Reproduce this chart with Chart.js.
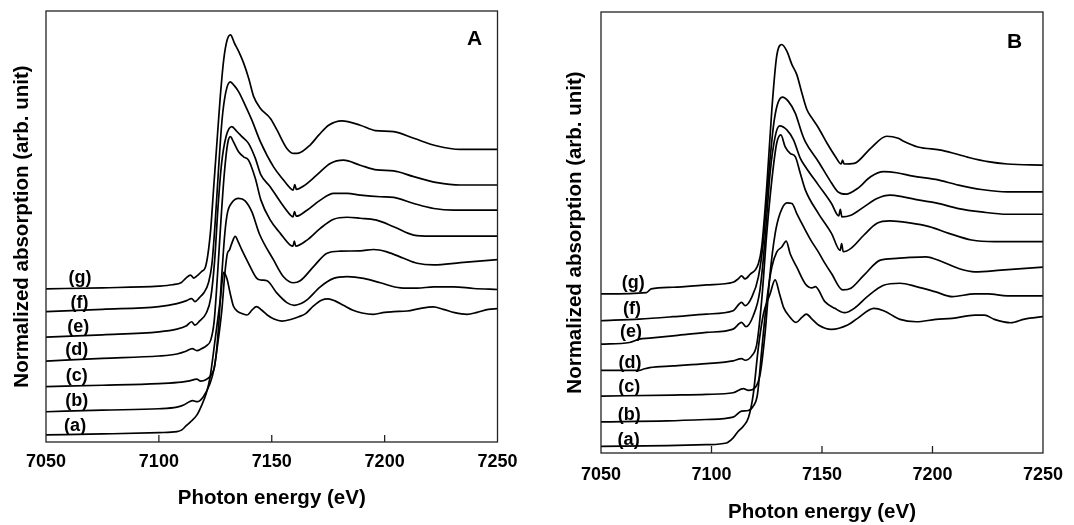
<!DOCTYPE html>
<html>
<head>
<meta charset="utf-8">
<script src="https://cdn.jsdelivr.net/npm/chart.js@4.4.0/dist/chart.umd.min.js"></script>
<style>
    body { margin: 0; background: #fff; }
    .panel { position: absolute; top: 0; width: 537px; height: 525px; }
</style>
</head>
<body>
<div class="panel" style="left:0"><canvas id="chartA" width="537" height="525"></canvas></div>
<div class="panel" style="left:537px"><canvas id="chartB" width="537" height="525"></canvas></div>
<script>
// Данные: энергия (eV) и нормированное поглощение (со сдвигом)
const X_TICKS = [7050, 7100, 7150, 7200, 7250];
const INNER_TICKS = [7100, 7150, 7200];
const CURVE_NAMES = ['(a)', '(b)', '(c)', '(d)', '(e)', '(f)', '(g)'];

// Панель A
const A_a = [[7050,0.21],[7075,0.24],[7100,0.28],[7108,0.31],[7110.2,0.36],[7112,0.48],[7114,0.60],[7116.8,0.80],[7119,1.10],[7121,1.45],[7122.7,1.94],[7124.9,3.04],[7127.2,4.23],[7128.7,5.05],[7130.2,4.85],[7131.5,4.45],[7133,4.05],[7135,3.88],[7137,3.82],[7139,3.78],[7141.3,3.93],[7143.2,4.03],[7145.5,3.93],[7148,3.78],[7151,3.66],[7154.5,3.60],[7158,3.64],[7162,3.73],[7165,3.82],[7168.5,4.05],[7172,4.22],[7175,4.26],[7178,4.20],[7182,4.06],[7186,3.92],[7190,3.84],[7195,3.80],[7200,3.86],[7204,3.88],[7210,3.90],[7216,3.98],[7221.5,4.02],[7226,3.95],[7231,3.85],[7236.5,3.80],[7241,3.86],[7246,3.95],[7250,3.97]];
const A_b = [[7050,0.90],[7075,0.95],[7100,0.99],[7108,1.04],[7111,1.10],[7113.5,1.20],[7115,1.23],[7117,1.20],[7119.7,1.35],[7122.7,1.75],[7124.5,2.20],[7125.7,2.74],[7127.9,3.93],[7129.2,5.00],[7130.3,5.60],[7131.3,5.72],[7132.5,5.95],[7133.8,6.12],[7135.2,5.95],[7136.8,5.71],[7139.7,5.32],[7143.4,4.87],[7145.5,4.82],[7147.9,4.80],[7152.3,4.43],[7156.7,4.15],[7160,4.07],[7163,4.12],[7165.6,4.23],[7171.5,4.62],[7177.4,4.87],[7183.4,4.92],[7190.7,4.87],[7198.1,4.74],[7207,4.59],[7214.4,4.58],[7221.8,4.62],[7230.6,4.62],[7239.5,4.57],[7250,4.54]];
const A_c = [[7050,1.65],[7075,1.69],[7100,1.74],[7110,1.78],[7113.5,1.82],[7116.8,1.87],[7118.5,1.81],[7121,1.86],[7123,1.98],[7124.8,2.30],[7126.3,3.30],[7127.8,4.90],[7129.2,6.20],[7130.3,6.80],[7132.3,7.12],[7135.3,7.25],[7138.2,7.18],[7141.2,6.85],[7144.5,6.20],[7150.8,5.42],[7155.2,4.92],[7159.7,4.74],[7162.6,4.80],[7168.5,5.22],[7174.5,5.62],[7180.4,5.68],[7189.2,5.69],[7195.1,5.73],[7201,5.66],[7208.4,5.47],[7214.4,5.32],[7221.8,5.27],[7233.6,5.34],[7250,5.43]];
const A_d = [[7050,2.41],[7075,2.49],[7100,2.56],[7108,2.62],[7112,2.70],[7114.8,2.78],[7116.8,2.72],[7119,2.78],[7121,2.86],[7123,3.04],[7124.5,3.60],[7126,5.00],[7127.5,6.60],[7129,8.00],[7130.5,8.90],[7131.7,9.09],[7133,8.94],[7135.3,8.64],[7137.5,8.49],[7139.7,8.39],[7142.7,7.85],[7145.2,7.20],[7149.3,6.61],[7153.8,6.21],[7158.2,5.86],[7159.4,5.83],[7160,5.98],[7160.6,5.83],[7165.6,6.01],[7171.5,6.36],[7177.4,6.63],[7183.4,6.69],[7189.2,6.66],[7196,6.61],[7204,6.41],[7212.9,6.16],[7220.3,6.13],[7250,6.13]];
const A_e = [[7050,3.12],[7075,3.19],[7100,3.28],[7108,3.36],[7112,3.45],[7114.5,3.58],[7116,3.48],[7118,3.60],[7121,3.84],[7123,4.30],[7124.7,5.40],[7126.2,7.00],[7127.8,8.30],[7129.8,9.10],[7132.3,9.39],[7134.5,9.25],[7136.8,9.09],[7139.7,8.89],[7142.7,8.45],[7145.2,7.95],[7149.3,7.60],[7153.8,7.15],[7158.2,6.76],[7159.4,6.70],[7160.1,6.86],[7160.8,6.72],[7165.6,6.90],[7171.5,7.20],[7177.4,7.40],[7183.4,7.40],[7189.2,7.35],[7198.1,7.30],[7204,7.28],[7212.9,7.10],[7221.8,6.95],[7230.6,6.90],[7250,6.90]];
const A_f = [[7050,3.88],[7075,3.95],[7100,4.03],[7108,4.12],[7112,4.20],[7114.5,4.27],[7116,4.18],[7118,4.30],[7120,4.45],[7122,4.75],[7123.5,5.30],[7125,6.60],[7126.5,8.20],[7128,9.60],[7129.6,10.40],[7131.6,10.72],[7133.5,10.60],[7135.3,10.43],[7138.2,10.03],[7141.2,9.58],[7144.9,8.95],[7150.8,8.19],[7155.2,7.80],[7158.8,7.52],[7159.5,7.50],[7160.2,7.66],[7160.9,7.52],[7164.1,7.62],[7170,7.95],[7175.9,8.29],[7181.8,8.39],[7189.2,8.24],[7196.6,8.10],[7204,8.07],[7212.9,7.90],[7223.3,7.72],[7233.6,7.65],[7250,7.65]];
const A_g = [[7050,4.56],[7075,4.59],[7100,4.64],[7106,4.68],[7110,4.75],[7112,4.88],[7114,4.97],[7115.5,4.88],[7117,4.95],[7119,5.08],[7120.6,5.20],[7122.8,6.21],[7124.3,7.60],[7125.8,8.99],[7127.2,10.28],[7128.7,11.37],[7130.2,11.96],[7131.7,12.12],[7133.5,11.87],[7135.4,11.62],[7137.6,11.27],[7139.8,10.82],[7142,10.28],[7145,9.93],[7149.4,9.63],[7152.3,9.29],[7156.7,8.74],[7159.7,8.59],[7162,8.60],[7167,8.84],[7171,9.15],[7175.2,9.43],[7181.1,9.56],[7189.2,9.43],[7195.9,9.27],[7204,9.24],[7212.9,9.04],[7223.3,8.81],[7233.6,8.71],[7250,8.71]];

// Панель B
const B_a = [[7050,0.20],[7080,0.22],[7097.7,0.25],[7106.8,0.30],[7109.8,0.45],[7112.1,0.65],[7114.4,0.80],[7116.7,1.05],[7118.9,1.75],[7121.2,3.15],[7123.5,4.15],[7126.5,4.75],[7128.8,5.17],[7130.8,4.75],[7132.6,4.35],[7135.6,4.05],[7138.3,3.90],[7140.9,4.05],[7142.9,4.15],[7145.5,4.00],[7148.4,3.82],[7154.3,3.69],[7161.6,3.82],[7166.1,4.02],[7173.5,4.32],[7177.9,4.25],[7185.3,3.99],[7192.7,3.92],[7201.5,3.99],[7208.9,4.02],[7219.2,4.12],[7223.5,4.12],[7228,3.99],[7235.4,3.89],[7241.7,4.00],[7250,4.07]];
const B_b = [[7050,0.93],[7080,0.96],[7097.7,1.00],[7109.8,1.07],[7113.6,1.25],[7116.7,1.27],[7118.9,1.40],[7120.8,1.75],[7122.7,3.05],[7125,4.55],[7127.3,5.55],[7129.5,6.00],[7131.8,6.15],[7133.8,6.33],[7135.6,5.95],[7138.6,5.55],[7142.5,5.05],[7145.5,4.93],[7147,4.97],[7151.3,4.52],[7155.8,4.32],[7160.2,4.19],[7164.6,4.32],[7170.5,4.67],[7177.9,5.01],[7185.3,5.07],[7192.7,4.97],[7201.5,4.81],[7208.9,4.67],[7219.2,4.75],[7225.1,4.75],[7233.9,4.69],[7250,4.69]];
const B_c = [[7050,1.70],[7082.6,1.73],[7097.7,1.75],[7109.8,1.80],[7114.4,1.92],[7116.7,1.87],[7119.7,1.95],[7122,2.35],[7124.2,3.55],[7126.5,5.35],[7128.8,6.55],[7131,7.15],[7134.1,7.47],[7136.4,7.45],[7138.6,7.15],[7141.7,6.75],[7145,6.35],[7148.4,6.00],[7151,5.70],[7154.3,5.36],[7159.4,4.87],[7163.1,4.92],[7169,5.31],[7176.4,5.76],[7183.8,5.81],[7189.7,5.84],[7197,5.86],[7204.4,5.71],[7211.8,5.51],[7219.2,5.41],[7231,5.46],[7250,5.55]];
const B_d = [[7050,2.47],[7067.4,2.47],[7069,2.50],[7072,2.55],[7082.6,2.60],[7097.7,2.67],[7109.8,2.75],[7113.6,2.82],[7115.2,2.77],[7118.2,2.90],[7120.5,3.25],[7122.7,4.55],[7125,6.55],[7127.3,8.15],[7129.5,9.25],[7131.4,9.50],[7133.3,9.15],[7135.6,8.95],[7137.9,8.85],[7140.2,8.35],[7142.5,7.85],[7148.4,7.15],[7154.3,6.56],[7158.2,6.05],[7158.9,6.25],[7159.6,6.01],[7163.1,6.11],[7169,6.51],[7174.9,6.86],[7180.8,6.93],[7189.7,6.87],[7198.5,6.76],[7207.4,6.56],[7217.7,6.36],[7228,6.31],[7250,6.31]];
const B_e = [[7050,3.25],[7062.9,3.30],[7067.4,3.40],[7072,3.43],[7082.6,3.50],[7097.7,3.60],[7109.8,3.70],[7113.6,3.90],[7115.6,3.77],[7118.9,4.10],[7121.9,4.85],[7124.2,6.35],[7126.5,8.35],[7128.8,9.45],[7130.8,9.77],[7134.1,9.65],[7137.1,9.35],[7140.2,8.80],[7142.5,8.55],[7148.4,8.00],[7154.3,7.45],[7157.6,7.08],[7158.3,7.28],[7159,7.05],[7163.1,7.10],[7169,7.35],[7174.9,7.60],[7180.8,7.70],[7186.7,7.65],[7194.1,7.55],[7201.5,7.47],[7211.8,7.30],[7222.1,7.20],[7233.9,7.13],[7250,7.13]];
const B_f = [[7050,3.95],[7067.4,4.00],[7082.6,4.07],[7097.7,4.15],[7109.8,4.25],[7113.6,4.50],[7115.2,4.40],[7118.2,4.65],[7121.2,5.25],[7123.5,6.35],[7125.8,8.25],[7128,9.75],[7129.8,10.40],[7132.1,10.63],[7134.8,10.50],[7137.9,10.15],[7140.9,9.55],[7142.5,9.29],[7148.4,8.70],[7153.5,8.15],[7157.2,7.80],[7160.9,7.73],[7166.1,7.90],[7172,8.25],[7177.9,8.40],[7183.8,8.37],[7191.2,8.27],[7201.5,8.17],[7211.8,8.00],[7222.1,7.87],[7233.9,7.80],[7250,7.80]];
const B_g = [[7050,4.75],[7070.5,4.79],[7072.7,4.90],[7082.6,4.95],[7097.7,5.02],[7109.8,5.10],[7112.1,5.20],[7113.6,5.29],[7115.2,5.20],[7117.4,5.33],[7121.2,5.65],[7122.7,6.15],[7125,7.95],[7127.3,10.25],[7129.5,11.85],[7131.8,12.20],[7134.1,12.00],[7136.4,11.60],[7138.6,11.30],[7140.9,10.75],[7143.2,10.25],[7145.5,10.00],[7148.5,9.70],[7152.3,9.25],[7156.1,8.85],[7158.7,8.63],[7159.3,8.75],[7160,8.63],[7164.6,8.65],[7172,9.10],[7179.3,9.46],[7184.5,9.40],[7186.7,9.32],[7193.4,9.14],[7204.4,9.04],[7216.2,8.83],[7225.1,8.70],[7233.9,8.63],[7250,8.60]];

// Подписи кривых (в координатах данных)
const A_LABEL_X = [7062.9, 7063.6, 7063.6, 7063.6, 7064.3, 7064.8, 7065.1];
const A_LABEL_Y = [0.48, 1.23, 1.96, 2.74, 3.41, 4.13, 4.87];
const B_LABEL_X = [7062.5, 7062.8, 7062.8, 7063.1, 7063.6, 7064.0, 7064.6];
const B_LABEL_Y = [0.39, 1.13, 1.98, 2.70, 3.60, 4.29, 5.07];

const FONT = '"Liberation Sans", Arial, Helvetica, sans-serif';
Chart.defaults.color = '#000';
Chart.defaults.font.family = FONT;

// Рамка, внутренние засечки и подписи
const panelDecor = {
    id: 'panelDecor',
    afterDatasetsDraw(chart, args, opts) {
        const { ctx, chartArea: a, scales: { x, y } } = chart;
        ctx.save();
        ctx.strokeStyle = '#222';
        ctx.lineWidth = 1.3;
        ctx.strokeRect(a.left, a.top, a.right - a.left, a.bottom - a.top);
        INNER_TICKS.forEach(v => {
            const px = x.getPixelForValue(v);
            ctx.beginPath();
            ctx.moveTo(px, a.bottom);
            ctx.lineTo(px, a.bottom - 7);
            ctx.stroke();
        });
        ctx.fillStyle = '#000';
        ctx.textAlign = 'center';
        ctx.textBaseline = 'middle';
        ctx.font = 'bold 18px ' + FONT;
        CURVE_NAMES.forEach((t, i) => {
            ctx.fillText(t, x.getPixelForValue(opts.labelX[i]), y.getPixelForValue(opts.labelY[i]));
        });
        ctx.font = 'bold 21px ' + FONT;
        ctx.fillText(opts.panel, x.getPixelForValue(opts.panelPos[0]), y.getPixelForValue(opts.panelPos[1]));
        ctx.restore();
    }
};

function makePanel(canvasId, curves, cfg) {
    const datasets = curves.map((c, i) => ({
        label: CURVE_NAMES[i],
        data: c.map(p => ({ x: p[0], y: p[1] })),
        borderColor: '#000',
        borderWidth: 1.7,
        pointRadius: 0,
        fill: false,
        cubicInterpolationMode: 'monotone'
    }));

    return new Chart(document.getElementById(canvasId), {
        type: 'line',
        data: { datasets },
        plugins: [panelDecor],
        options: {
            responsive: false,
            animation: false,
            layout: { padding: { left: 0, top: cfg.top, right: cfg.right, bottom: 0 } },
            plugins: {
                legend: { display: false },
                tooltip: { enabled: false },
                panelDecor: { labelX: cfg.labelX, labelY: cfg.labelY, panel: cfg.panel, panelPos: cfg.panelPos }
            },
            scales: {
                x: {
                    type: 'linear',
                    min: 7050,
                    max: 7250,
                    afterBuildTicks: s => { s.ticks = X_TICKS.map(v => ({ value: v })); },
                    ticks: {
                        padding: cfg.tickPad,
                        autoSkip: false,
                        maxRotation: 0,
                        font: { size: 18, weight: 'bold', lineHeight: 1.2 },
                        callback: v => String(v)
                    },
                    grid: { display: false, drawTicks: false },
                    border: { display: false },
                    title: {
                        display: true,
                        text: 'Photon energy (eV)',
                        font: { size: 20.5, weight: 'bold', lineHeight: 1.2 },
                        padding: { top: 0, bottom: cfg.xTitlePad }
                    },
                    afterFit: s => { s.height = cfg.xHeight; }
                },
                y: {
                    min: 0,
                    max: cfg.yMax,
                    ticks: { display: false },
                    grid: { display: false, drawTicks: false },
                    border: { display: false },
                    title: {
                        display: true,
                        text: 'Normalized absorption (arb. unit)',
                        font: { size: 20.5, weight: 'bold', lineHeight: 1.2 },
                        padding: { top: cfg.yTitlePad, bottom: 0 }
                    },
                    afterFit: s => { s.width = cfg.yWidth; }
                }
            }
        }
    });
}

makePanel('chartA', [A_a, A_b, A_c, A_d, A_e, A_f, A_g], {
    top: 11, right: 39.5, yWidth: 46, xHeight: 83, yMax: 12.83,
    tickPad: 9, xTitlePad: 14.7, yTitlePad: 9.7,
    labelX: A_LABEL_X, labelY: A_LABEL_Y, panel: 'A', panelPos: [7239.8, 11.98]
});

makePanel('chartB', [B_a, B_b, B_c, B_d, B_e, B_f, B_g], {
    top: 12, right: 21, yWidth: 64, xHeight: 72, yMax: 13.17,
    tickPad: 11, xTitlePad: 0.7, yTitlePad: 25.7,
    labelX: B_LABEL_X, labelY: B_LABEL_Y, panel: 'B', panelPos: [7237.2, 12.28]
});
</script>
</body>
</html>
